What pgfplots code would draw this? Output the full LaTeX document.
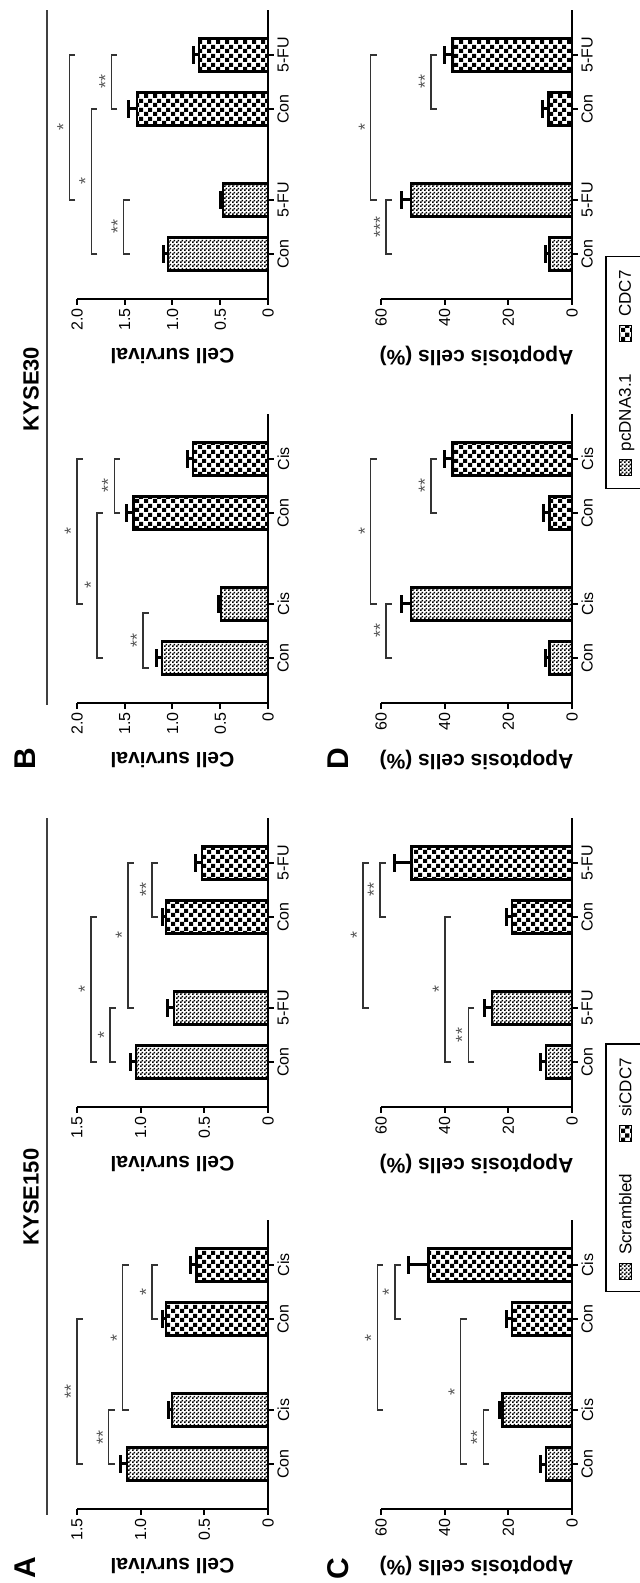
\documentclass[border=0pt]{standalone}
\usepackage{pgfplots}
\pgfplotsset{compat=1.18}
\usepackage{fontspec}
\setmainfont{Liberation Sans}
\usetikzlibrary{patterns,calc}

% checker fills of the bars
\pgfdeclarepatternformonly{finecheck}{\pgfpointorigin}{\pgfqpoint{4pt}{4pt}}{\pgfqpoint{4pt}{4pt}}{%
  \pgfpathrectangle{\pgfpointorigin}{\pgfqpoint{2pt}{2pt}}%
  \pgfpathrectangle{\pgfqpoint{2pt}{2pt}}{\pgfqpoint{2pt}{2pt}}%
  \pgfusepath{fill}}
\pgfdeclarepatternformonly{coarsecheck}{\pgfpointorigin}{\pgfqpoint{9pt}{9pt}}{\pgfqpoint{9pt}{9pt}}{%
  \pgfpathrectangle{\pgfpointorigin}{\pgfqpoint{4.5pt}{4.5pt}}%
  \pgfpathrectangle{\pgfqpoint{4.5pt}{4.5pt}}{\pgfqpoint{4.5pt}{4.5pt}}%
  \pgfusepath{fill}}

\pgfplotsset{
  panel/.style={
    scale only axis, width=289pt, height=191pt,
    xmin=0, xmax=289, ymin=0,
    axis x line*=bottom, axis y line*=left,
    axis line style={line width=2.5pt},
    tick style={line width=2pt, black}, major tick length=6pt, tick align=outside,
    xtick={45,99,190,244},
    ticklabel style={font=\fontsize{16}{19}\selectfont},
    ylabel style={at={([xshift=-57pt]axis description cs:0,0.5)}, anchor=center,
      font=\bfseries\fontsize{21}{25}\selectfont},
    ybar, bar width=33pt, clip=false,
    /pgf/number format/assume math mode=true,
  },
  surv/.style={panel, ymax=1.5, ytick={0,0.5,1,1.5}, yticklabels={0,0.5,1.0,1.5}, ylabel={Cell survival}},
  surv2/.style={panel, ymax=2, ytick={0,0.5,1,1.5,2}, yticklabels={0,0.5,1.0,1.5,2.0}, ylabel={Cell survival}},
  apop/.style={panel, ymax=60, ytick={0,20,40,60}, yticklabels={0,20,40,60}, ylabel={Apoptosis cells (\%)}},
  bars/.style={bar shift=0pt, draw=black, line width=2.5pt,
    error bars/y dir=plus, error bars/y explicit,
    error bars/error bar style={line width=3pt, solid, black},
    error bars/error mark options={rotate=90, line width=3pt, mark size=9pt, black}},
  scr/.style={bars, pattern=finecheck,
    legend image code/.code={\draw[pattern=finecheck, draw=black, line width=1pt] (0pt,-6pt) rectangle (16pt,6pt);}},
  sic/.style={bars, pattern=coarsecheck,
    legend image code/.code={\draw[pattern=coarsecheck, draw=black, line width=1pt] (0pt,-6pt) rectangle (16pt,6pt);}},
  leg/.style={legend style={anchor=north, legend columns=2, draw=black, line width=1.2pt,
    font=\fontsize{17}{20}\selectfont, inner ysep=11pt, inner xsep=12pt,
    /tikz/every odd column/.append style={column sep=6pt},
    /tikz/every even column/.append style={column sep=30pt}}},
}
\tikzset{
  brk/.style={line width=1.3pt, black!80},
  stars/.style={font=\fontsize{18}{21}\selectfont, text=black!65, inner sep=0pt},
}
% significance bracket: x1, x2, level, stars
\newcommand{\br}[4]{%
  \draw[brk] ([yshift=-6pt]axis cs:#1,#3) -- (axis cs:#1,#3) -- (axis cs:#2,#3) -- ([yshift=-6pt]axis cs:#2,#3);
  \node[stars] at ($(axis cs:#1,#3)!0.5!(axis cs:#2,#3)+(0,6pt)$) {#4};}

\begin{document}
\rotatebox{90}{%
\begin{tikzpicture}[x=1pt,y=1pt]
\path[use as bounding box] (0,0) rectangle (1583,640);

% ---- A: KYSE150 cell survival
\begin{axis}[surv, at={(74pt,372pt)}, anchor=south west, xticklabels={Con,Cis,Con,Cis}]
  \addplot[scr] coordinates {(45,1.107) +- (0,0.05) (99,0.754) +- (0,0.026)};
  \addplot[sic] coordinates {(190,0.80) +- (0,0.03) (244,0.56) +- (0,0.05)};
  \br{45}{99}{1.25}{**}
  \br{45}{190}{1.50}{**}
  \br{99}{244}{1.14}{*}
  \br{190}{244}{0.91}{*}
\end{axis}
\begin{axis}[surv, at={(476pt,372pt)}, anchor=south west, xticklabels={Con,5-FU,Con,5-FU}]
  \addplot[scr] coordinates {(45,1.037) +- (0,0.045) (99,0.74) +- (0,0.05)};
  \addplot[sic] coordinates {(190,0.80) +- (0,0.03) (244,0.52) +- (0,0.05)};
  \br{45}{99}{1.24}{*}
  \br{45}{190}{1.39}{*}
  \br{99}{244}{1.10}{*}
  \br{190}{244}{0.91}{**}
\end{axis}

% ---- B: KYSE30 cell survival
\begin{axis}[surv2, at={(880pt,372pt)}, anchor=south west, xticklabels={Con,Cis,Con,Cis}]
  \addplot[scr] coordinates {(45,1.11) +- (0,0.06) (99,0.49) +- (0,0.03)};
  \addplot[sic] coordinates {(190,1.41) +- (0,0.07) (244,0.785) +- (0,0.055)};
  \br{35}{90}{1.31}{**}
  \br{45}{190}{1.79}{*}
  \br{99}{244}{2.00}{*}
  \br{190}{244}{1.61}{**}
\end{axis}
\begin{axis}[surv2, at={(1284pt,372pt)}, anchor=south west, xticklabels={Con,5-FU,Con,5-FU}]
  \addplot[scr] coordinates {(45,1.047) +- (0,0.05) (99,0.47) +- (0,0.03)};
  \addplot[sic] coordinates {(190,1.37) +- (0,0.09) (244,0.72) +- (0,0.06)};
  \br{45}{99}{1.51}{**}
  \br{45}{190}{1.85}{*}
  \br{99}{244}{2.08}{*}
  \br{190}{244}{1.64}{**}
\end{axis}

% ---- C: KYSE150 apoptosis
\begin{axis}[apop, leg, at={(74pt,68pt)}, anchor=south west, xticklabels={Con,Cis,Con,Cis},
    legend style={at={(axis description cs:1.18,-0.175)}}]
  \addplot[scr] coordinates {(45,8.2) +- (0,1.6) (99,21.8) +- (0,1.1)};
  \addlegendentry{Scrambled}
  \addplot[sic] coordinates {(190,18.9) +- (0,1.8) (244,45.1) +- (0,6.3)};
  \addlegendentry{siCDC7}
  \br{45}{99}{27.9}{**}
  \br{45}{190}{35.0}{*}
  \br{99}{244}{61.2}{*}
  \br{190}{244}{55.6}{*}
\end{axis}
\begin{axis}[apop, at={(476pt,68pt)}, anchor=south west, xticklabels={Con,5-FU,Con,5-FU}]
  \addplot[scr] coordinates {(45,8.2) +- (0,1.6) (99,25.2) +- (0,2.3)};
  \addplot[sic] coordinates {(190,18.9) +- (0,1.8) (244,50.4) +- (0,5.5)};
  \br{45}{99}{32.6}{**}
  \br{45}{190}{39.9}{*}
  \br{99}{244}{65.7}{*}
  \br{190}{244}{60.3}{**}
\end{axis}

% ---- D: KYSE30 apoptosis
\begin{axis}[apop, leg, at={(880pt,68pt)}, anchor=south west, xticklabels={Con,Cis,Con,Cis},
    legend style={at={(axis description cs:1.144,-0.175)}}]
  \addplot[scr] coordinates {(45,7.1) +- (0,1.1) (99,50.6) +- (0,2.9)};
  \addlegendentry{pcDNA3.1}
  \addplot[sic] coordinates {(190,7.1) +- (0,1.9) (244,37.5) +- (0,2.4)};
  \addlegendentry{CDC7}
  \br{45}{99}{58.4}{**}
  \br{99}{244}{63.2}{*}
  \br{190}{244}{44.3}{**}
\end{axis}
\begin{axis}[apop, at={(1284pt,68pt)}, anchor=south west, xticklabels={Con,5-FU,Con,5-FU}]
  \addplot[scr] coordinates {(45,7.1) +- (0,1.1) (99,50.6) +- (0,2.9)};
  \addplot[sic] coordinates {(190,7.4) +- (0,1.8) (244,37.5) +- (0,2.4)};
  \br{45}{99}{58.4}{***}
  \br{99}{244}{63.2}{*}
  \br{190}{244}{44.3}{**}
\end{axis}

% titles, rules and panel letters
\node[font=\bfseries\fontsize{22}{26}\selectfont] at (386,609) {KYSE150};
\draw[line width=2.5pt, black!75] (68,593) -- (765,593);
\node[font=\bfseries\fontsize{22}{26}\selectfont] at (1194,609) {KYSE30};
\draw[line width=2.5pt, black!75] (878,593) -- (1573,593);
\node[font=\bfseries\fontsize{30}{36}\selectfont] at (15,615) {A};
\node[font=\bfseries\fontsize{30}{36}\selectfont] at (824,615) {B};
\node[font=\bfseries\fontsize{30}{36}\selectfont] at (14,302) {C};
\node[font=\bfseries\fontsize{30}{36}\selectfont] at (824,302) {D};
\end{tikzpicture}}
\end{document}
